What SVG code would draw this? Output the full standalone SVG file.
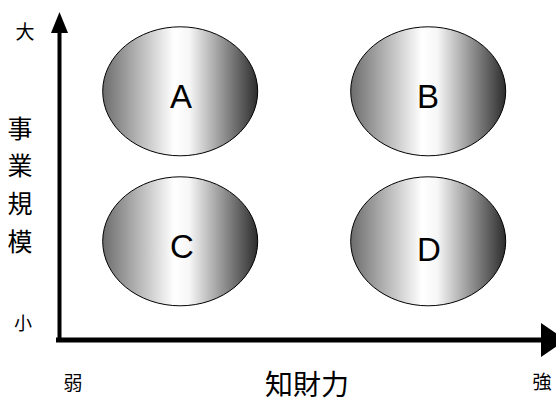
<svg xmlns="http://www.w3.org/2000/svg" width="556" height="403" viewBox="0 0 556 403">
<style>
.node ellipse{fill:url(#g);stroke:#000;stroke-width:1}
.lbl{font-family:"Liberation Sans",Arial,sans-serif;font-size:33px;fill:#000;text-anchor:middle}
.jp{font-family:"Noto Sans CJK JP","Noto Sans CJK SC",sans-serif;fill:#000;text-anchor:middle}
.axis{stroke:#000;fill:none}
</style>
<defs>
<linearGradient id="g" x1="0" y1="0" x2="1" y2="0">
<stop offset="0" stop-color="#6c6c6c"/>
<stop offset="0.46" stop-color="#ffffff"/>
<stop offset="0.56" stop-color="#f6f6f6"/>
<stop offset="1" stop-color="#2c2c2c"/>
</linearGradient>
</defs>
<rect width="556" height="403" fill="#fff"/>
<g id="connectors">
<line class="axis" x1="59.5" y1="340" x2="59.5" y2="30" stroke-width="4"/>
<polygon points="59.5,12 51,33 68,33" fill="#000"/>
<line class="axis" x1="56" y1="340" x2="545" y2="340" stroke-width="5"/>
<polygon points="541,323 541,357 566,340" fill="#000"/>
</g>
<g id="nodeA" class="node"><ellipse cx="180.2" cy="91.3" rx="77.5" ry="64.5"/><text class="lbl" x="181" y="108">A</text></g>
<g id="nodeB" class="node"><ellipse cx="428.2" cy="91.3" rx="77.5" ry="64.5"/><text class="lbl" x="428" y="108">B</text></g>
<g id="nodeC" class="node"><ellipse cx="180.2" cy="241.3" rx="77.5" ry="64.5"/><text class="lbl" x="182" y="258">C</text></g>
<g id="nodeD" class="node"><ellipse cx="428.2" cy="241.3" rx="77.5" ry="64.5"/><text class="lbl" x="429" y="261">D</text></g>
<g id="labels">
<text class="jp" x="25" y="39" font-size="19">大</text>
<text class="jp" x="23" y="330" font-size="18">小</text>
<text class="jp" x="73" y="390" font-size="19">弱</text>
<text class="jp" x="542" y="389" font-size="19">強</text>
<text class="jp" x="307" y="395" font-size="28">知財力</text>
<text class="jp" font-size="25" x="20" y="138">事</text>
<text class="jp" font-size="25" x="20" y="175">業</text>
<text class="jp" font-size="25" x="20" y="213">規</text>
<text class="jp" font-size="25" x="20" y="251">模</text>
</g>
</svg>
